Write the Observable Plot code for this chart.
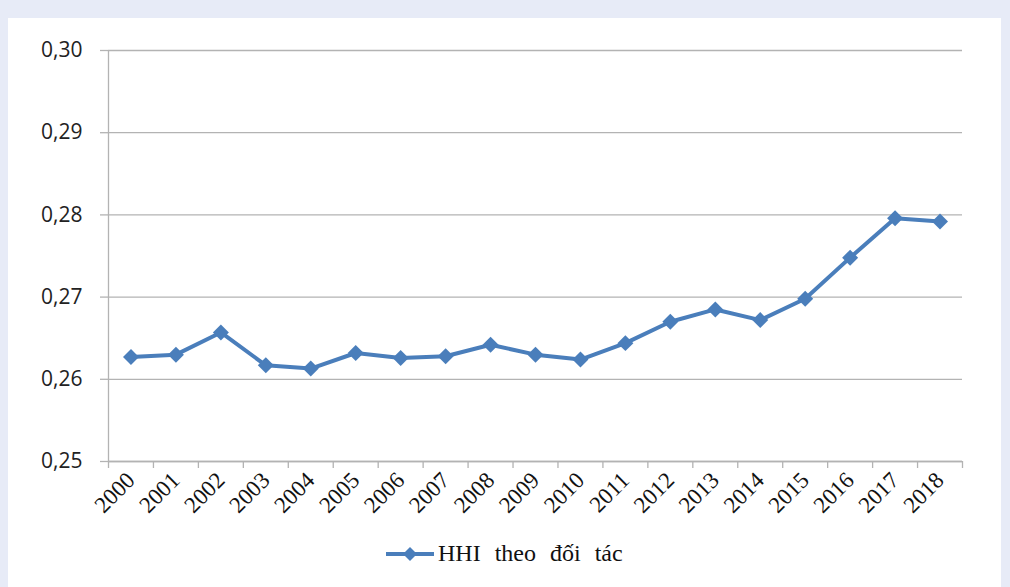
<!DOCTYPE html>
<html>
<head>
<meta charset="utf-8">
<script src="https://cdn.jsdelivr.net/npm/d3@7"></script>
<script src="https://cdn.jsdelivr.net/npm/@observablehq/plot@0.6"></script>
<style>
  html, body { margin: 0; padding: 0; }
  body { width: 1010px; height: 587px; background: #e7ebf7; position: relative; overflow: hidden; }
  #panel { position: absolute; left: 8px; top: 18px; width: 993px; height: 569px; background: #ffffff; }
  #chart { position: absolute; left: 0; top: 0; }
  #legend { position: absolute; left: 385px; top: 540px; display: flex; align-items: center;
            font-family: "Liberation Serif", serif; font-size: 24px; color: #111; word-spacing: 8px; }
  #legend svg { margin-right: 3px; }
</style>
</head>
<body>
<div id="panel"></div>
<div id="chart"></div>
<div id="legend"></div>
<script>
const years = [2000, 2001, 2002, 2003, 2004, 2005, 2006, 2007, 2008, 2009,
               2010, 2011, 2012, 2013, 2014, 2015, 2016, 2017, 2018];
const hhi = [0.2627, 0.2630, 0.2657, 0.2617, 0.2613, 0.2632, 0.2626, 0.2628, 0.2642, 0.2630,
             0.2624, 0.2644, 0.2670, 0.2685, 0.2672, 0.2698, 0.2748, 0.2796, 0.2792];
const yTicks = [0.25, 0.26, 0.27, 0.28, 0.29, 0.30];
const seriesName = "HHI theo đối tác";

const data = years.map((year, i) => ({year, hhi: hhi[i]}));
const boundaries = years.map(y => y - 0.5).concat(years[years.length - 1] + 0.5);
const lineColor = "#4a7ebb";
const gridColor = "#b3b3b3";

const chart = Plot.plot({
  width: 1010,
  height: 520,
  marginLeft: 108,
  marginRight: 48,
  marginTop: 50,
  marginBottom: 59,
  style: {background: "transparent", overflow: "visible"},
  x: {type: "linear", domain: [boundaries[0], boundaries[boundaries.length - 1]]},
  y: {domain: [yTicks[0], yTicks[yTicks.length - 1]]},
  marks: [
    Plot.gridY(yTicks, {stroke: gridColor, strokeOpacity: 1, strokeWidth: 1.3}),
    Plot.axisY(yTicks, {
      tickSize: 8, tickPadding: 18, stroke: gridColor, strokeOpacity: 1, strokeWidth: 1.3,
      tickFormat: d => d.toFixed(2).replace(".", ","),
      fontSize: 21, fontFamily: "Open Sans", fill: "#222", label: null
    }),
    Plot.ruleX([boundaries[0]], {stroke: gridColor, strokeWidth: 1.3}),
    Plot.axisX(boundaries, {tickSize: 7, tickFormat: () => "", stroke: gridColor, strokeOpacity: 1, strokeWidth: 1.3, label: null}),
    Plot.axisX(years, {
      tickSize: 0, tickRotate: -45, tickPadding: 15, tickFormat: d => String(d),
      fontSize: 23, fontFamily: "Liberation Serif", fill: "#111", label: null
    }),
    Plot.ruleY([yTicks[0]], {stroke: gridColor, strokeWidth: 1.3}),
    Plot.line(data, {x: "year", y: "hhi", stroke: lineColor, strokeWidth: 4}),
    Plot.dot(data, {x: "year", y: "hhi", symbol: "diamond2", r: 7.2, fill: lineColor, stroke: "none"})
  ]
});
document.getElementById("chart").appendChild(chart);

const legend = document.getElementById("legend");
legend.innerHTML = `<svg width="50" height="20"><line x1="1" y1="10" x2="49" y2="10" stroke="${lineColor}" stroke-width="4"/><path d="M25,3 L32,10 L25,17 L18,10 Z" fill="${lineColor}"/></svg><span></span>`;
legend.querySelector("span").textContent = seriesName;
</script>
</body>
</html>
